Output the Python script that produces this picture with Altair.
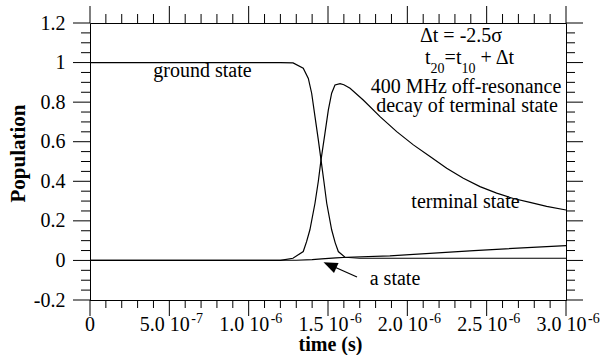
import altair as alt
import pandas as pd

# ---------------- data (time in seconds, population) ----------------
t_ground = [0.0, 1.20e-6, 1.28e-6, 1.344e-6, 1.376e-6, 1.397e-6, 1.418e-6, 1.439e-6,
            1.456e-6, 1.474e-6, 1.492e-6, 1.523e-6, 1.545e-6, 1.565e-6, 1.607e-6,
            1.70e-6, 2.0e-6, 2.5e-6, 3.0e-6]
p_ground = [1.0, 1.0, 0.998, 0.971, 0.92, 0.845, 0.727, 0.609,
            0.508, 0.40, 0.289, 0.155, 0.09, 0.045, 0.016,
            0.011, 0.011, 0.011, 0.011]

t_term = [0.0, 1.20e-6, 1.279e-6, 1.344e-6, 1.365e-6, 1.386e-6, 1.418e-6, 1.439e-6,
          1.456e-6, 1.481e-6, 1.502e-6, 1.523e-6, 1.544e-6, 1.576e-6, 1.60e-6,
          1.639e-6, 1.722e-6, 1.828e-6, 1.933e-6, 2.038e-6, 2.143e-6, 2.248e-6,
          2.353e-6, 2.458e-6, 2.563e-6, 2.668e-6, 2.773e-6, 2.878e-6, 3.0e-6]
p_term = [0.0, 0.0, 0.011, 0.045, 0.095, 0.155, 0.289, 0.40,
          0.508, 0.643, 0.76, 0.845, 0.887, 0.893, 0.888,
          0.870, 0.811, 0.727, 0.651, 0.584, 0.525, 0.466,
          0.415, 0.373, 0.340, 0.313, 0.293, 0.273, 0.255]

t_astate = [0.0, 1.30e-6, 1.40e-6, 1.46e-6, 1.55e-6, 1.62e-6, 1.89e-6, 2.42e-6, 3.0e-6]
p_astate = [0.0, 0.001, 0.004, 0.008, 0.013, 0.016, 0.023, 0.05, 0.075]

x_major = [0.0, 5e-7, 1.0e-6, 1.5e-6, 2.0e-6, 2.5e-6, 3.0e-6]
x_label_base = ["0", "5.0 10", "1.0 10", "1.5 10", "2.0 10", "2.5 10", "3.0 10"]
x_label_exp = ["", "-7", "-6", "-6", "-6", "-6", "-6"]
x_minor = [k * 1e-7 for k in range(31) if k % 5 != 0]

y_major = [-0.2, 0.0, 0.2, 0.4, 0.6, 0.8, 1.0, 1.2]
y_labels = ["-0.2", "0", "0.2", "0.4", "0.6", "0.8", "1", "1.2"]
y_minor = [round(-0.2 + 0.05 * k, 4) for k in range(29) if k % 4 != 0]

# ---------------- tables ----------------
rows = []
for name, ts, ps in [("ground", t_ground, p_ground), ("terminal", t_term, p_term),
                     ("a", t_astate, p_astate)]:
    for t, p in zip(ts, ps):
        rows.append({"series": name, "t": t, "p": p})
df = pd.DataFrame(rows)

xlab = pd.DataFrame({"t": x_major, "base": x_label_base, "exp": x_label_exp})
xmaj = pd.DataFrame({"t": x_major})
xmin = pd.DataFrame({"t": x_minor})
ymaj = pd.DataFrame({"p": y_major})
ymin = pd.DataFrame({"p": y_minor})

W, H = 476, 277
FONT = "Liberation Serif"
xs = alt.Scale(domain=[0, 3e-6], nice=False, zero=False)
ys = alt.Scale(domain=[-0.2, 1.2], nice=False, zero=False)

y_expr = "[" + ",".join("'%s'" % s for s in y_labels) + "][round((datum.value + 0.2) * 5)]"

X_AXIS = alt.Axis(orient="bottom", values=x_major, ticks=False, labels=False, title="time  (s)",
                  titleFont=FONT, titleFontSize=20, titleFontWeight="bold",
                  titleY=50, titleX=240, titleBaseline="alphabetic")
Y_AXIS = alt.Axis(orient="left", values=y_major, ticks=False, labelExpr=y_expr, labelPadding=25,
                  labelFont=FONT, labelFontSize=20,
                  title="Population", titleFont=FONT, titleFontSize=21,
                  titleFontWeight="bold", titleAngle=270,
                  titleX=-66, titleY=130, titleBaseline="alphabetic", titleAlign="center")


def X(field="t"):
    return alt.X(field + ":Q", scale=xs, axis=X_AXIS)


def Y(field="p"):
    return alt.Y(field + ":Q", scale=ys, axis=Y_AXIS)


lines = alt.Chart(df).mark_line(color="black", strokeWidth=1.2).encode(
    x=X(), y=Y(), detail="series:N")


def xticks(d, y0, y1):
    return alt.Chart(d).mark_rule(color="black", strokeWidth=1).encode(
        x=X(), y=alt.value(y0), y2=alt.value(y1))


def yticks(d, x0, x1):
    return alt.Chart(d).mark_rule(color="black", strokeWidth=1).encode(
        y=Y(), x=alt.value(x0), x2=alt.value(x1))


ticks = [
    xticks(xmaj, H, H + 16), xticks(xmin, H, H + 8),
    xticks(xmaj, 0, -17), xticks(xmin, 0, -9),
    yticks(ymaj, 0, -17), yticks(ymin, 0, -9),
    yticks(ymaj, W, W + 17), yticks(ymin, W, W + 9),
]

# x tick labels with superscript exponents
lab_base = alt.Chart(xlab[xlab["exp"] != ""]).mark_text(
    align="center", baseline="alphabetic", dx=-4.5, font=FONT, fontSize=20, color="black"
).encode(x=X(), y=alt.value(H + 31), text="base:N")
lab_exp = alt.Chart(xlab[xlab["exp"] != ""]).mark_text(
    align="left", baseline="alphabetic", dx=22, dy=-8, font=FONT, fontSize=14, color="black"
).encode(x=X(), y=alt.value(H + 31), text="exp:N")
lab_zero = alt.Chart(xlab[xlab["exp"] == ""]).mark_text(
    align="center", baseline="alphabetic", font=FONT, fontSize=20, color="black"
).encode(x=X(), y=alt.value(H + 31), text="base:N")

one = pd.DataFrame({"a": [0]})


def txt(s, x, y, size=20, align="center"):
    return alt.Chart(one).mark_text(text=s, align=align, baseline="alphabetic", font=FONT,
                                    fontSize=size, color="black").encode(
        x=alt.value(x), y=alt.value(y))


ann = [
    txt("Δt = -2.5σ", 371, 18.5),
    txt("t", 335, 41, align="left"),
    txt("20", 340.6, 49.5, size=14, align="left"),
    txt("=t", 354.6, 41, align="left"),
    txt("10", 371.5, 49.5, size=14, align="left"),
    txt("+ Δt", 390.5, 41, align="left"),
    txt("400 MHz off-resonance", 376, 70.3),
    txt("decay of terminal state", 377, 88.7),
    txt("terminal state", 375.5, 184.7),
    txt("ground state", 63.3, 53.7, align="left"),
    txt("a state", 305, 262),
]

arrow_line = alt.Chart(one).mark_rule(color="black", strokeWidth=1.3).encode(
    x=alt.value(267), y=alt.value(254), x2=alt.value(240), y2=alt.value(242))
arrow_head = alt.Chart(one).mark_point(
    shape="M0,0L-0.8,2L0.8,2Z", filled=True, color="black", opacity=1, size=196, angle=294
).encode(x=alt.value(233.5), y=alt.value(239.3))

chart = alt.layer(lines, *ticks, lab_base, lab_exp, lab_zero, *ann, arrow_line, arrow_head).properties(
    width=W, height=H,
    autosize=alt.AutoSizeParams(type="none"),
    padding={"left": 90, "top": 23, "right": 39, "bottom": 55},
    background="white",
).configure_axis(
    grid=False, domainColor="black", labelColor="black", titleColor="black", domainWidth=1,
).configure_view(stroke="black", strokeWidth=1)

chart.save("out.html", embed_options={"renderer": "svg", "actions": False})
